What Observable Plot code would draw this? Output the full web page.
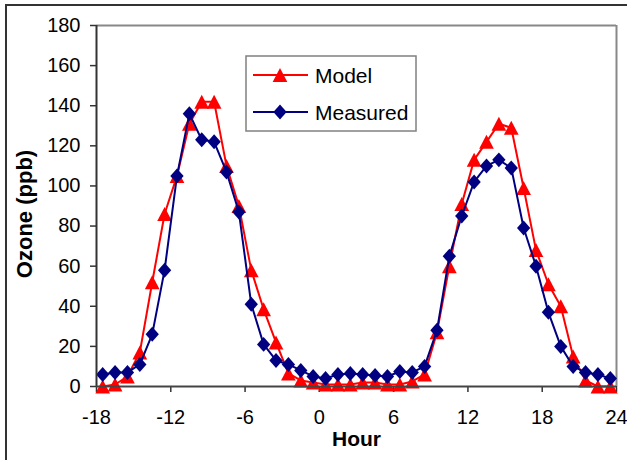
<!DOCTYPE html>
<html>
<head>
<meta charset="utf-8">
<script src="https://cdn.jsdelivr.net/npm/d3@7"></script>
<script src="https://cdn.jsdelivr.net/npm/@observablehq/plot@0.6"></script>
<style>
  html, body { margin: 0; padding: 0; background: #fff; overflow: hidden; }
  #wrap { position: relative; width: 627px; height: 460px; overflow: hidden; font-family: Arial, "Liberation Sans", sans-serif; }
  #border { position: absolute; left: 5px; top: 4px; width: 700px; height: 600px; border: 2px solid #333; box-sizing: border-box; }
  #chart { position: absolute; left: 0; top: 0; }
  #legend { position: absolute; left: 245px; top: 55px; }
</style>
</head>
<body>
<div id="wrap"><div id="border"></div><div id="chart"></div><div id="legend"></div></div>
<script>
// ---- data ----
const hours = [-17.5, -16.5, -15.5, -14.5, -13.5, -12.5, -11.5, -10.5, -9.5, -8.5, -7.5, -6.5, -5.5, -4.5,
  -3.5, -2.5, -1.5, -0.5, 0.5, 1.5, 2.5, 3.5, 4.5, 5.5, 6.5, 7.5, 8.5, 9.5, 10.5, 11.5, 12.5, 13.5,
  14.5, 15.5, 16.5, 17.5, 18.5, 19.5, 20.5, 21.5, 22.5, 23.5];
const model = [0, 1, 5, 17, 52, 86, 105, 131, 142, 142, 110, 90, 58, 38.5, 22, 6.5, 3, 2, 1, 1, 1, 2, 2,
  1, 1, 2.5, 6, 27, 60, 91, 113, 122, 131, 129, 99, 68, 51, 40, 15, 3, 0, 0];
const measured = [6, 7, 7, 11, 26, 58, 105, 136, 123, 122, 107, 87, 41, 21, 13, 11, 8, 5, 4, 6, 6.5, 6,
  5.5, 5, 7.5, 7, 10, 28, 65, 85, 102, 110, 113, 109, 79, 60, 37, 20, 10, 7, 6, 4];
const seriesNames = ["Model", "Measured"];
const xTicks = [-18, -12, -6, 0, 6, 12, 18, 24];
const yTicks = [0, 20, 40, 60, 80, 100, 120, 140, 160, 180];

// ---- marker shapes ----
const triangle = { draw(ctx, size) { const r = Math.sqrt(size / Math.PI);
  ctx.moveTo(0, -r); ctx.lineTo(1.05 * r, r); ctx.lineTo(-1.05 * r, r); ctx.closePath(); } };
const diamond = { draw(ctx, size) { const r = Math.sqrt(size / Math.PI);
  ctx.moveTo(0, -1.07 * r); ctx.lineTo(0.95 * r, 0); ctx.lineTo(0, 1.07 * r); ctx.lineTo(-0.95 * r, 0); ctx.closePath(); } };
const styles = {
  Model: { color: "#FF0000", symbol: triangle },
  Measured: { color: "#000080", symbol: diamond }
};

const rows = [];
hours.forEach((h, i) => {
  rows.push({ hour: h, value: model[i], series: "Model" });
  rows.push({ hour: h, value: measured[i], series: "Measured" });
});

const chart = Plot.plot({
  width: 627, height: 460,
  marginLeft: 96, marginRight: 11, marginTop: 25, marginBottom: 74,
  style: { fontFamily: "Arial, 'Liberation Sans', sans-serif", fontSize: "20px", background: "transparent", color: "black" },
  x: { domain: [-18, 24] },
  y: { domain: [0, 180] },
  marks: [
    Plot.ruleY([180], { stroke: "#888", strokeWidth: 2 }),
    Plot.ruleX([24], { stroke: "#888", strokeWidth: 2 }),
    Plot.axisX({ ticks: xTicks, tickFormat: d => String(d), tickSize: 6, tickPadding: 17, stroke: "#333", fill: "black", strokeWidth: 1.5, label: null, fontSize: 20 }),
    Plot.axisY({ ticks: yTicks, tickFormat: d => String(d), tickSize: 6, tickPadding: 10, stroke: "#333", fill: "black", strokeWidth: 1.5, label: null, fontSize: 20 }),
    ...seriesNames.map(name => [
      Plot.line(rows.filter(d => d.series === name), { x: "hour", y: "value", stroke: styles[name].color, strokeWidth: 2 }),
      Plot.dot(rows.filter(d => d.series === name), { x: "hour", y: "value", symbol: () => styles[name].symbol, fill: styles[name].color, r: 7, stroke: "none" })
    ]).flat(),
    Plot.ruleX([-18], { stroke: "#333", strokeWidth: 2 }),
    Plot.ruleY([0], { stroke: "#444", strokeWidth: 2 }),
    Plot.text(["Hour"], { frameAnchor: "bottom", dy: 53, lineAnchor: "middle", textAnchor: "middle", fontWeight: "bold", fontSize: 21, fill: "black" }),
    Plot.text(["Ozone (ppb)"], { frameAnchor: "left", dx: -72, dy: 8, rotate: -90, lineAnchor: "middle", textAnchor: "middle", fontWeight: "bold", fontSize: 22, fill: "black" })
  ]
});
document.getElementById("chart").appendChild(chart);

// ---- legend (inside the plot area, as in the reference) ----
const lw = 172, lh = 77;
const leg = d3.select("#legend").append("svg").attr("width", lw).attr("height", lh)
  .style("font-family", "Arial, 'Liberation Sans', sans-serif");
leg.append("rect").attr("x", 1).attr("y", 1).attr("width", lw - 2).attr("height", lh - 2)
  .attr("fill", "white").attr("stroke", "#808080").attr("stroke-width", 1.5);
seriesNames.forEach((name, i) => {
  const cy = 20 + i * 37;
  const g = leg.append("g");
  g.append("line").attr("x1", 8).attr("x2", 63).attr("y1", cy).attr("y2", cy)
    .attr("stroke", styles[name].color).attr("stroke-width", 2);
  g.append("path").attr("d", d3.symbol(styles[name].symbol, Math.PI * 49)())
    .attr("transform", `translate(35,${cy})`).attr("fill", styles[name].color);
  g.append("text").attr("x", 70).attr("y", cy + 7.5).attr("font-size", 21).attr("fill", "black").text(name);
});
</script>
</body>
</html>
